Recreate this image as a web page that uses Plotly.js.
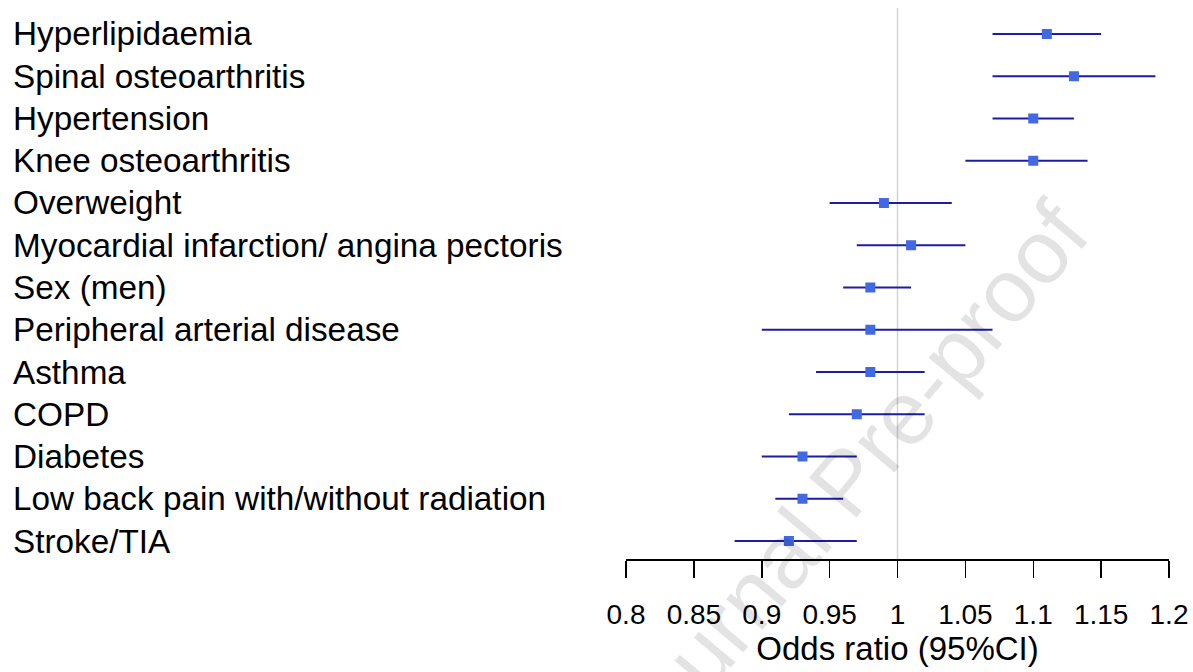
<!DOCTYPE html>
<html>
<head>
<meta charset="utf-8">
<script src="https://cdn.plot.ly/plotly-3.0.1.min.js"></script>
<style>html,body{margin:0;padding:0;background:#fff;}#chart{width:1193px;height:672px;}</style>
</head>
<body>
<div id="chart"></div>
<script>
// Data (top to bottom as displayed)
const categories = ["Hyperlipidaemia","Spinal osteoarthritis","Hypertension","Knee osteoarthritis","Overweight","Myocardial infarction/ angina pectoris","Sex (men)","Peripheral arterial disease","Asthma","COPD","Diabetes","Low back pain with/without radiation","Stroke/TIA"];
const oddsRatio = [1.11,1.13,1.10,1.10,0.99,1.01,0.98,0.98,0.98,0.97,0.93,0.93,0.92];
const ciLower  = [1.07,1.07,1.07,1.05,0.95,0.97,0.96,0.90,0.94,0.92,0.90,0.91,0.88];
const ciUpper  = [1.15,1.19,1.13,1.14,1.04,1.05,1.01,1.07,1.02,1.02,0.97,0.96,0.97];
const xTicks = [0.8,0.85,0.9,0.95,1,1.05,1.1,1.15,1.2];
const xTickLabels = ["0.8","0.85","0.9","0.95","1","1.05","1.1","1.15","1.2"];

const n = categories.length;
const ypos = categories.map((c,i)=> n-1-i);

const FONT = "Arial, 'Liberation Sans', Helvetica, sans-serif";

const trace = {
  type: "scatter",
  mode: "markers",
  x: oddsRatio,
  y: ypos,
  marker: {symbol: "square", size: 10, color: "#4169E1"},
  error_x: {
    type: "data", symmetric: false,
    array: oddsRatio.map((v,i)=> ciUpper[i]-v),
    arrayminus: oddsRatio.map((v,i)=> v-ciLower[i]),
    color: "#1c1ca8", thickness: 2, width: 0
  },
  hoverinfo: "skip",
  showlegend: false
};

const L = 626, R = 24, T = 8, B = 113;
const plotW = 1193 - L - R;
const plotH = 672 - T - B;

const annotations = categories.map((c,i)=>({
  text: c, xref: "paper", yref: "y",
  x: (11 - L)/plotW, y: ypos[i],
  xanchor: "left", yanchor: "middle", showarrow: false,
  font: {family: FONT, size: 33.3, color: "#000"}
}));

annotations.push({
  text: "Journal Pre-proof", xref: "paper", yref: "paper",
  x: (846 - L)/plotW, y: (672 - B - 482)/plotH,
  xanchor: "center", yanchor: "middle", showarrow: false,
  textangle: -50,
  font: {family: FONT, size: 90, color: "rgba(0,0,0,0.11)"}
});

const layout = {
  width: 1193, height: 672,
  margin: {l: L, r: R, t: T, b: B, pad: 0},
  paper_bgcolor: "#fff", plot_bgcolor: "#fff",
  xaxis: {
    range: [0.8, 1.2],
    tickmode: "array", tickvals: xTicks, ticktext: xTickLabels,
    ticks: "outside", ticklen: 17, tickwidth: 1.5, tickcolor: "#000",
    showline: true, linecolor: "#000", linewidth: 1.5,
    showgrid: false, zeroline: false,
    ticklabelstandoff: 13,
    tickfont: {family: FONT, size: 28, color: "#000"},
    title: {text: "Odds ratio (95%CI)", standoff: 6, font: {family: FONT, size: 33, color: "#000"}},
    fixedrange: true
  },
  yaxis: {
    range: [-0.426, 12.615],
    showticklabels: false, showgrid: false, zeroline: false, showline: false, ticks: "",
    fixedrange: true
  },
  shapes: [{
    type: "line", xref: "x", yref: "paper", x0: 1, x1: 1, y0: 0, y1: 1,
    line: {color: "#d3d3d3", width: 1.5}, layer: "below"
  }],
  annotations: annotations
};

Plotly.newPlot("chart", [trace], layout, {displayModeBar: false, staticPlot: true});
</script>
</body>
</html>
